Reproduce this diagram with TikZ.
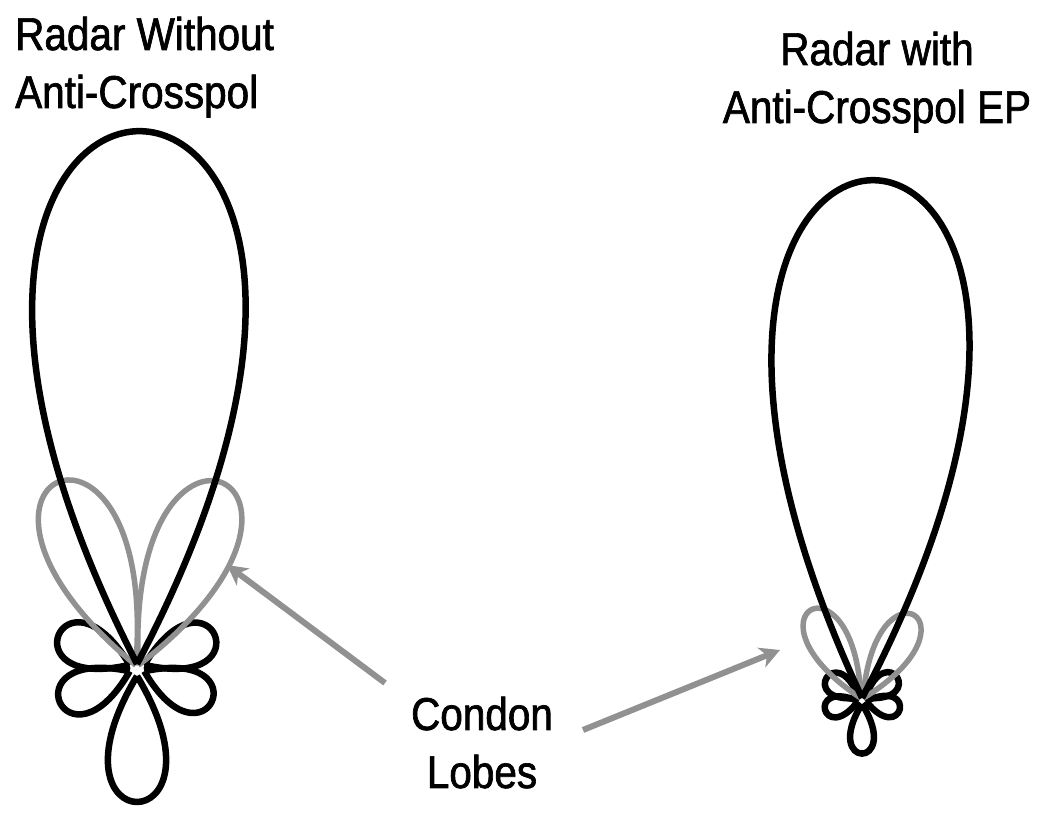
\documentclass[tikz,border=0pt]{standalone}
\usepackage{fontspec}
\setmainfont[FakeStretch=0.88,FakeBold=1.5]{Liberation Sans}
\usepackage{tikz}
\usetikzlibrary{arrows.meta,positioning,calc}
\definecolor{lobegray}{RGB}{145,145,145}
% one lobe: style, origin, direction, spread, control length, gap from origin
\newcommand*{\Lobe}[6]{\draw[#1] ($(#2)+(#3:#6)$) .. controls +(#3-#4:#5) and +(#3+#4:#5) .. ($(#2)+(#3:#6)$);}

\begin{document}
\begin{tikzpicture}[x=1pt,y=1pt]
\tikzstyle{lobe}=[line width=6.5pt,line join=round,black]
\tikzstyle{cond}=[line width=5.5pt,line join=round,lobegray]
\tikzstyle{pointer}=[line width=6pt,lobegray,-{Stealth[length=20pt,width=21pt,inset=6pt]}]
\tikzstyle{title}=[inner sep=0pt,font=\fontsize{46}{58}\selectfont]
\useasboundingbox (0,0) rectangle (1046,821);
\coordinate (o1) at (137,153);
\coordinate (o2) at (862,121);
% left pattern
\Lobe{lobe}{o1}{157}{36}{127}{8}
\Lobe{lobe}{o1}{23}{36}{126}{8}
\Lobe{lobe}{o1}{204}{36}{126}{8}
\Lobe{lobe}{o1}{336}{36}{122}{8}
\Lobe{lobe}{o1}{270}{31}{196}{8}
\Lobe{cond}{o1}{113}{27.5}{299}{3}
\Lobe{cond}{o1}{65}{27.5}{302}{3}
\Lobe{lobe}{o1}{89.7}{27.5}{801}{4}
% right pattern
\Lobe{lobe}{o2}{148}{38}{64}{4}
\Lobe{lobe}{o2}{33}{38}{64}{4}
\Lobe{lobe}{o2}{195}{38}{58}{4}
\Lobe{lobe}{o2}{346}{38}{59}{4}
\Lobe{lobe}{o2}{270}{32}{78}{4}
\Lobe{cond}{o2}{119.6}{27}{152}{2}
\Lobe{cond}{o2}{58.4}{27}{146}{2}
\Lobe{lobe}{o2}{88.6}{26.4}{771}{2}
% titles
\node[title,anchor=base west] (lt1) at (15,771) {Radar Without};
\node[title,anchor=base west] (lt2) at (15,713) {Anti-Crosspol};
\node[title,anchor=base] (rt1) at (877,756) {Radar with};
\node[title,anchor=base] (rt2) at (877,698) {Anti-Crosspol EP};
\node[title,anchor=base] (cl1) at (482,91) {Condon};
\node[title,anchor=base] (cl2) at (482,33) {Lobes};
% pointers
\coordinate (p1s) at (385,138);
\coordinate (p1e) at (227,256);
\coordinate (p2s) at (583,91);
\coordinate (p2e) at (780,171);
\draw[pointer] (p1s) -- (p1e);
\draw[pointer] (p2s) -- (p2e);
\end{tikzpicture}
\end{document}
